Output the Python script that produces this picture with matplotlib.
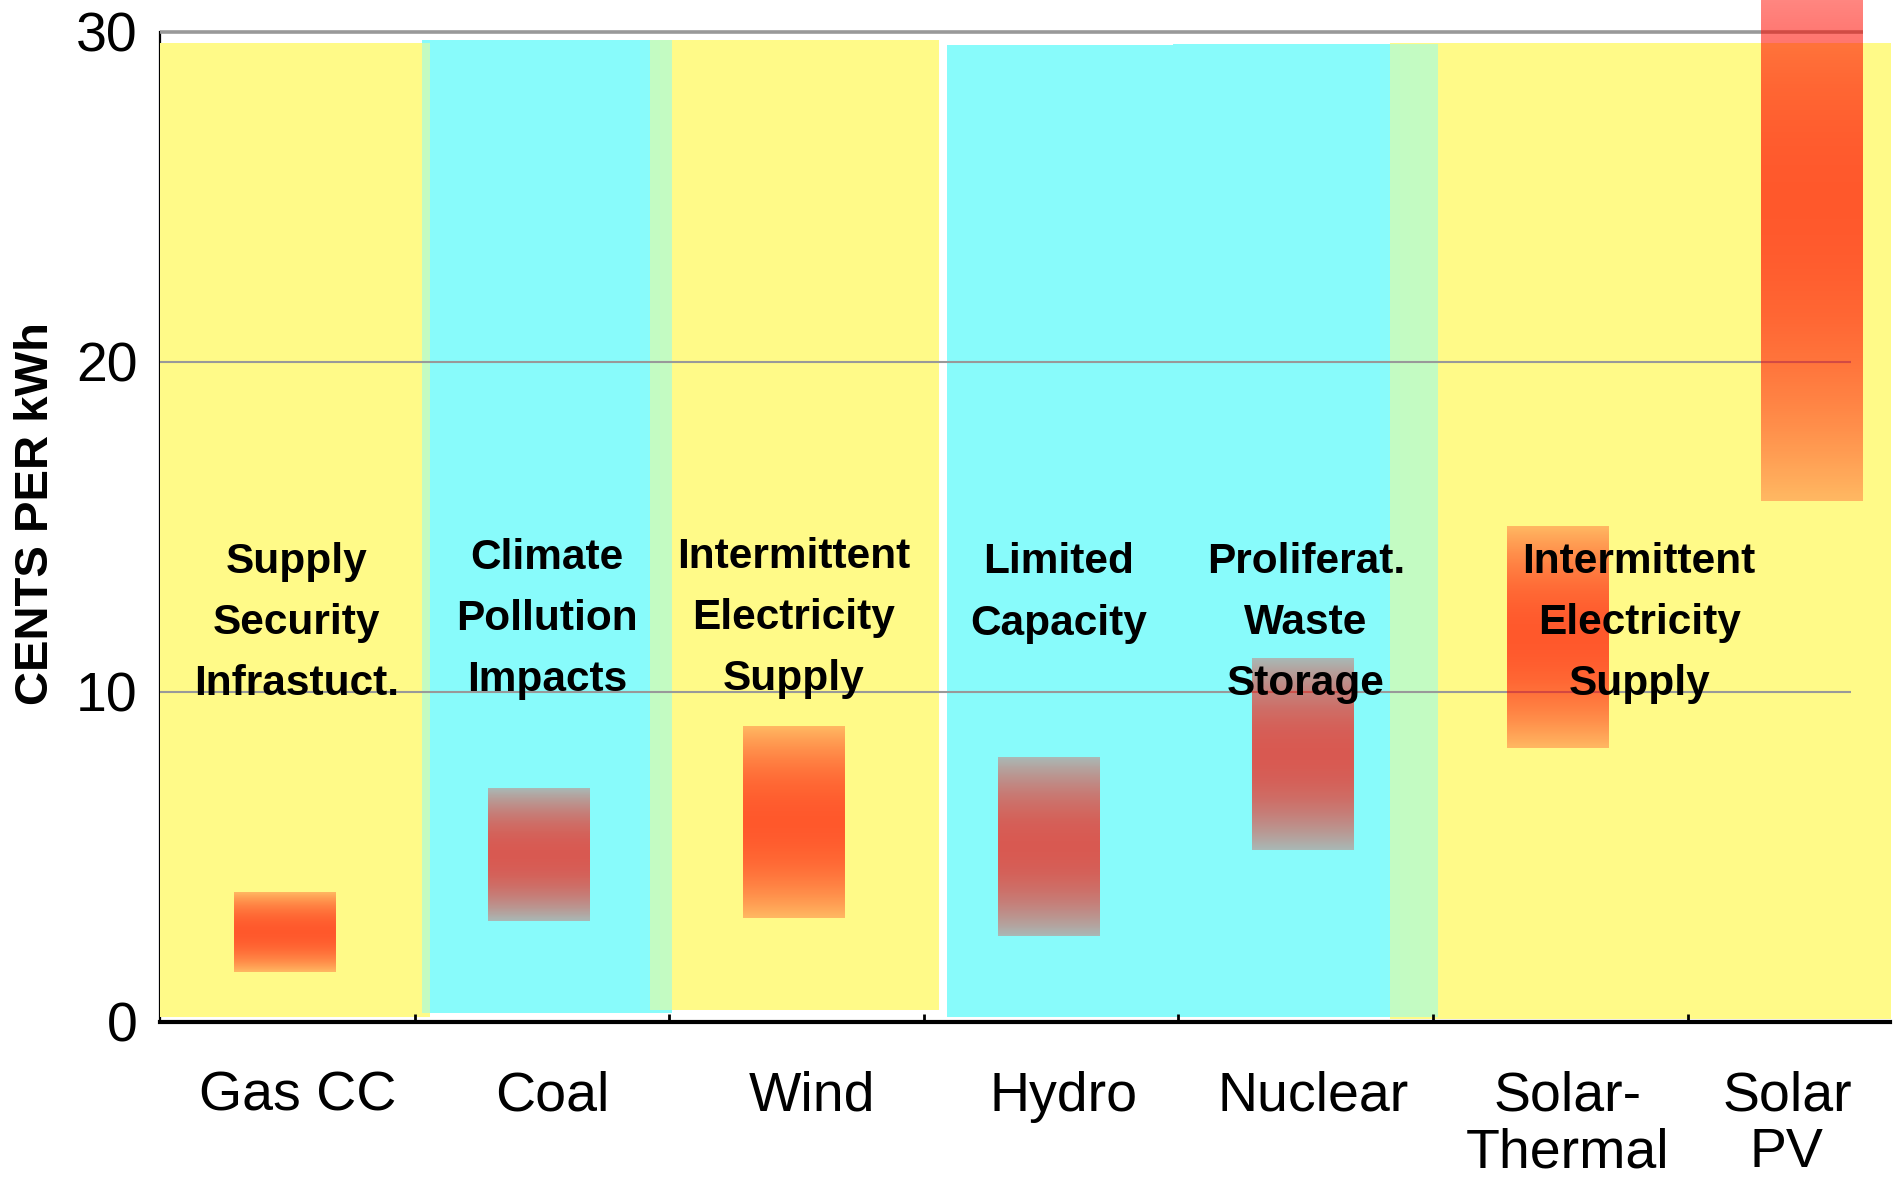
import numpy as np
import matplotlib
matplotlib.use("Agg")
import matplotlib.pyplot as plt
from matplotlib.colors import to_rgb
from matplotlib.ticker import FixedLocator, NullFormatter

plt.rcParams["font.family"] = ["Liberation Sans", "DejaVu Sans"]

# Cost ranges in cents per kWh (low, high) for each technology
technologies = ["Gas CC", "Coal", "Wind", "Hydro", "Nuclear", "Solar-\nThermal", "Solar\nPV"]
cost_low = [1.5, 3.05, 3.15, 2.6, 5.2, 8.3, 15.8]
cost_high = [3.9, 7.05, 8.95, 8.0, 11.0, 15.0, 34.0]

# Issue notes written over each group
issues = [
    "Supply\nSecurity\nInfrastuct.",
    "Climate\nPollution\nImpacts",
    "Intermittent\nElectricity\nSupply",
    "Limited\nCapacity",
    "Proliferat.\nWaste\nStorage",
    "Intermittent\nElectricity\nSupply",
]
issue_x = [0.535, 1.52, 2.49, 3.53, 4.50, 5.81]
issue_y = [12.1, 12.2, 12.25, 13.0, 12.1, 12.1]

# Background bands: (x0, x1, y0, y1, colour)
yellow = "#fffa88"
cyan = "#88fbfb"
bands = [
    (0.0, 1.06, 0.15, 29.67, yellow),
    (1.03, 2.01, 0.27, 29.75, cyan),
    (1.925, 3.06, 0.36, 29.76, yellow),
    (3.09, 3.98, 0.15, 29.6, cyan),
    (3.98, 5.02, 0.15, 29.65, cyan),
    (4.83, 6.85, 0.1, 29.67, yellow),
]

fig = plt.figure(figsize=(18.94, 11.8), dpi=100)
ax = fig.add_axes([0.0845, 0.1339, 0.9134, 0.839])
ax.set_xlim(0, 6.795)
ax.set_ylim(0, 30)

for x0, x1, y0, y1, c in bands:
    ax.fill_between([x0, x1], y0, y1, color=c, lw=0, zorder=1)

# where a yellow and a cyan band overlap, the two colours mix
for (a0, a1, ay0, ay1, ca), (b0, b1, by0, by1, cb) in zip(bands[:-1], bands[1:]):
    if a1 > b0 and ca != cb:
        mix = tuple((np.array(to_rgb(ca)) + np.array(to_rgb(cb))) / 2)
        ax.fill_between([b0, a1], max(ay0, by0), min(ay1, by1), color=mix, lw=0, zorder=1.1)

# horizontal reference lines
ax.hlines([10, 20], 0, 6.64, color="#999999", lw=1.5, zorder=2)
ax.hlines(30, 0, 6.69, color="#999999", lw=2.6, zorder=2, clip_on=False)

# cost ranges as red bars, strongest in the middle of the range
prof = np.linspace(0, 1, 200)
alpha = 0.28 + 0.4 * (1 - (2 * prof - 1) ** 2)
rgba = np.zeros((200, 1, 4))
rgba[:, 0, 0] = 1.0
rgba[:, 0, 1] = 0.05
rgba[:, 0, 3] = alpha
bar_w = 0.4
for i, (lo, hi) in enumerate(zip(cost_low, cost_high)):
    xc = i + 0.49
    im = ax.imshow(rgba, extent=(xc - bar_w / 2, xc + bar_w / 2, lo, hi),
                   origin="lower", aspect="auto", interpolation="bilinear", zorder=3)
    im.set_clip_on(False)

for x, y, s in zip(issue_x, issue_y, issues):
    ax.text(x, y, s, ha="center", va="center", fontsize=30.5, fontweight="bold",
            linespacing=1.68, zorder=5)

for sp in ["top", "right"]:
    ax.spines[sp].set_visible(False)
ax.spines["left"].set_linewidth(1.6)
ax.spines["bottom"].set_linewidth(3)
ax.spines["left"].set_zorder(0.5)

ax.set_yticks([0, 10, 20, 30])
ax.tick_params(axis="y", length=0, pad=16, labelsize=40)

# boundaries between groups as small ticks, names centred below each group
ax.xaxis.set_major_locator(FixedLocator([1, 2, 3, 4, 5, 6]))
ax.xaxis.set_major_formatter(NullFormatter())
label_pos = [0.54, 1.54, 2.56, 3.55, 4.53, 5.53, 6.39]
ax.xaxis.set_minor_locator(FixedLocator(label_pos))
ax.set_xticklabels(technologies, minor=True)
ax.tick_params(axis="x", which="major", direction="in", length=6, width=2)
ax.tick_params(axis="x", which="minor", length=0, pad=35, labelsize=40)
for lab in ax.get_xticklabels(minor=True):
    lab.set_linespacing(1.12)

fig.text(36 / 1894, 0.565, "CENTS PER kWh", rotation=90, ha="center", va="center",
         fontsize=34, fontweight="bold")

fig.savefig("out.png", dpi=100)
